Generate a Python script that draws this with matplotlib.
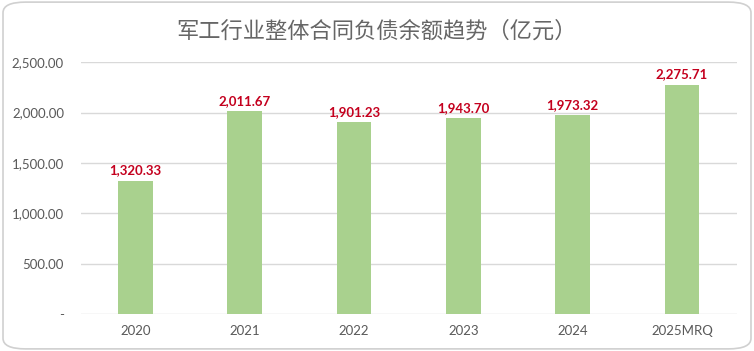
import matplotlib.pyplot as plt
from matplotlib.patches import FancyBboxPatch

plt.rcParams['font.family'] = ['Noto Sans CJK SC', 'DejaVu Sans']

categories = ['2020', '2021', '2022', '2023', '2024', '2025MRQ']
values = [1320.33, 2011.67, 1901.23, 1943.70, 1973.32, 2275.71]
yticks = [0, 500, 1000, 1500, 2000, 2500]
ytick_labels = ['-', '500.00', '1,000.00', '1,500.00', '2,000.00', '2,500.00']

fig = plt.figure(figsize=(7.54, 3.51), dpi=100)
border = FancyBboxPatch((0.004, 0.006), 0.992, 0.988, boxstyle='round,pad=0,rounding_size=0.03',
                        transform=fig.transFigure, facecolor='white', edgecolor='#D0D0D0',
                        lw=1.2, zorder=-10)
fig.patches.append(border)

ax = fig.add_axes([0.107, 0.105, 0.87, 0.718])
x = range(len(categories))
ax.bar(x, values, width=0.32, color='#A9D18E', zorder=2)
for i, v in zip(x, values):
    ax.text(i, v + 45, '{:,.2f}'.format(v), ha='center', va='bottom',
            color='#C4001E', fontsize=9.5, fontweight='bold', family='Lato')

ax.set_xlim(-0.5, len(categories) - 0.5)
ax.set_ylim(0, 2500)
ax.set_yticks(yticks)
ax.set_yticklabels(ytick_labels, color='#595959', fontsize=9.5, family='Lato')
ax.set_xticks(list(x))
ax.set_xticklabels(categories, color='#595959', fontsize=9.5, family='Lato')
ax.grid(axis='y', color='#D9D9D9', lw=1, zorder=0)
for s in ax.spines.values():
    s.set_visible(False)
ax.tick_params(length=0, pad=12)
ax.tick_params(axis='x', pad=8)
ax.set_facecolor('none')

fig.text(0.5, 0.91, '军工行业整体合同负债余额趋势（亿元）', ha='center', va='center',
         fontsize=16, color='#666666')

fig.savefig('out.png', dpi=100)
